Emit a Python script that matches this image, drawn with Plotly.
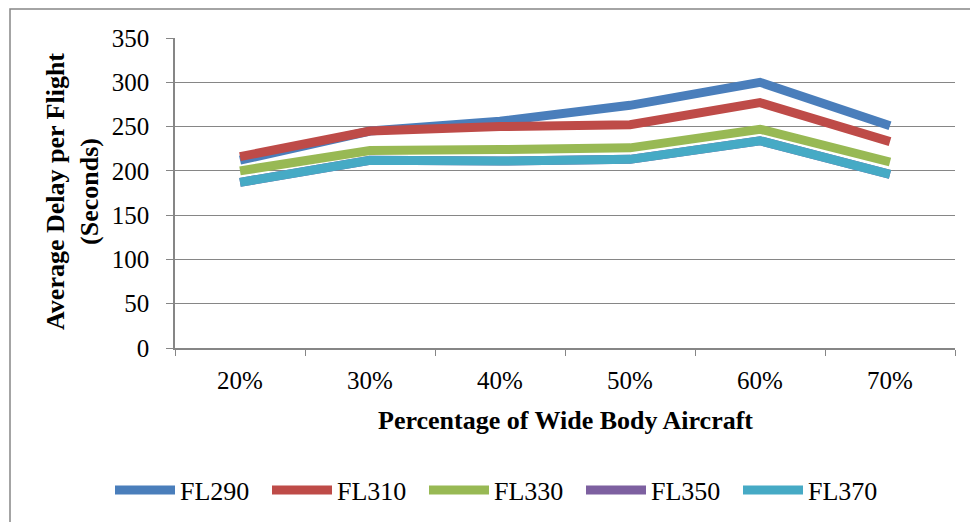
import plotly.graph_objects as go

categories = ["20%", "30%", "40%", "50%", "60%", "70%"]
fl290 = [212, 245, 256, 274, 300, 251]
fl310 = [216, 245, 250, 252, 277, 233]
fl330 = [200, 223, 224, 226, 247, 210]
fl350 = [187, 212, 211, 213, 234, 196]
fl370 = [187, 212, 211, 213, 234, 196]
y_ticks = [0, 50, 100, 150, 200, 250, 300, 350]

series = [
    ("FL290", fl290, "#4A7EBB"),
    ("FL310", fl310, "#BE4B48"),
    ("FL330", fl330, "#98B954"),
    ("FL350", fl350, "#7D60A0"),
    ("FL370", fl370, "#46AAC5"),
]

FONT = "Liberation Serif"
TICK = 25
LEG = 26
TITLE = 26

fig = go.Figure()
for name, vals, col in series:
    fig.add_trace(go.Scatter(x=categories, y=vals, name=name, mode="lines",
                             line=dict(color=col, width=9)))

L, R, T, B = 175, 15, 38, 174
W, H = 970, 522
pw, ph = W - L - R, H - T - B

fig.update_layout(
    width=W, height=H,
    margin=dict(l=L, r=R, t=T, b=B, pad=0, autoexpand=False),
    paper_bgcolor="white", plot_bgcolor="white",
    font=dict(family=FONT, size=TICK, color="black"),
    showlegend=True,
    legend=dict(orientation="h", x=(110 - L) / pw, xanchor="left",
                y=(H - B - 490) / ph, yanchor="middle",
                font=dict(family=FONT, size=LEG, color="black"),
                itemwidth=60, entrywidth=82, traceorder="normal",
                bgcolor="rgba(0,0,0,0)"),
    xaxis=dict(type="category", range=[-0.5, 5.5], tickson="boundaries",
               ticks="outside", ticklen=6,
               tickcolor="#868686", showline=True, linecolor="#868686", linewidth=1.5,
               showgrid=False, zeroline=False, ticklabelstandoff=9,
               tickfont=dict(family=FONT, size=TICK, color="black")),
    yaxis=dict(range=[0, 350], tickvals=y_ticks, ticks="outside", ticklen=7,
               tickcolor="#868686", showline=True, linecolor="#868686", linewidth=1.5,
               showgrid=True, gridcolor="#868686", gridwidth=1.3, zeroline=False,
               ticklabelstandoff=12,
               tickfont=dict(family=FONT, size=TICK, color="black")),
    annotations=[
        dict(text="<b>Percentage of Wide Body Aircraft</b>", xref="paper", yref="paper",
             x=0.5, y=(H - B - 420) / ph, xanchor="center", yanchor="middle",
             showarrow=False, font=dict(family=FONT, size=TITLE, color="black")),
        dict(text="<b>Average Delay per Flight<br>(Seconds)</b>", xref="paper", yref="paper",
             x=(72 - L) / pw, y=(H - B - 192) / ph, xanchor="center", yanchor="middle",
             textangle=-90, showarrow=False,
             font=dict(family=FONT, size=TITLE, color="black")),
    ],
    shapes=[
        dict(type="rect", xref="paper", yref="paper",
             x0=(10 - L) / pw, x1=(1100 - L) / pw,
             y0=(H - B - 700) / ph, y1=(H - B - 9) / ph,
             line=dict(color="#868686", width=1.5), fillcolor="rgba(0,0,0,0)",
             layer="below"),
    ],
)

fig.write_html("out.html", config={"displayModeBar": False},
               post_script="document.body.style.margin='0';document.body.style.overflow='hidden';")
